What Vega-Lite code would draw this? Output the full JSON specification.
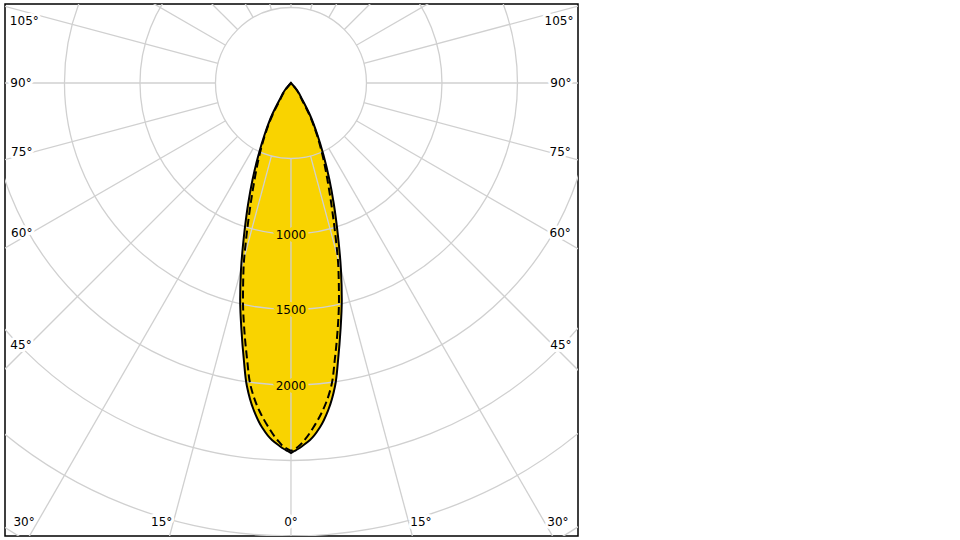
{
  "$schema": "https://vega.github.io/schema/vega-lite/v6.json",
  "width": 573,
  "height": 532,
  "autosize": {"type": "none"},
  "padding": {"left": 5, "top": 4, "right": 382, "bottom": 4},
  "background": "white",
  "config": {"view": {"stroke": "#000000", "strokeWidth": 1.5}, "font": "DejaVu Sans"},
  "datasets": {
    "solid": [
      {"y": 0, "xl": 0, "xr": 0},
      {"y": -46.4, "xl": -39.7, "xr": 39.7},
      {"y": -112.6, "xl": -76.2, "xr": 76.2},
      {"y": -211.9, "xl": -125.8, "xr": 125.8},
      {"y": -344.4, "xl": -175.5, "xr": 175.5},
      {"y": -476.8, "xl": -215.2, "xr": 215.2},
      {"y": -642.4, "xl": -255, "xr": 255},
      {"y": -808, "xl": -284.8, "xr": 284.8},
      {"y": -1013.2, "xl": -311.3, "xr": 311.3},
      {"y": -1238.4, "xl": -331.1, "xr": 331.1},
      {"y": -1437.1, "xl": -336.5, "xr": 336.5},
      {"y": -1635.8, "xl": -328, "xr": 328},
      {"y": -1834.4, "xl": -312, "xr": 312},
      {"y": -2006.6, "xl": -292, "xr": 292},
      {"y": -2165.6, "xl": -247, "xr": 247},
      {"y": -2278.1, "xl": -193, "xr": 193},
      {"y": -2364.2, "xl": -126, "xr": 126},
      {"y": -2397.4, "xl": -84, "xr": 84},
      {"y": -2423.8, "xl": -46.4, "xr": 46.4},
      {"y": -2437, "xl": -23.2, "xr": 23.2},
      {"y": -2450.3, "xl": 0, "xr": 0}
    ],
    "dashed": [
      {"y": 0, "xl": 0, "xr": 0},
      {"y": -46.4, "xl": -37.5, "xr": 37.5},
      {"y": -112.6, "xl": -72.8, "xr": 72.8},
      {"y": -211.9, "xl": -122.5, "xr": 122.5},
      {"y": -344.4, "xl": -172.2, "xr": 172.2},
      {"y": -476.8, "xl": -208.6, "xr": 208.6},
      {"y": -642.4, "xl": -241.7, "xr": 241.7},
      {"y": -808, "xl": -268.2, "xr": 268.2},
      {"y": -1013.2, "xl": -294.7, "xr": 294.7},
      {"y": -1238.4, "xl": -314.6, "xr": 314.6},
      {"y": -1437.1, "xl": -317.9, "xr": 317.9},
      {"y": -1635.8, "xl": -309, "xr": 309},
      {"y": -1834.4, "xl": -290, "xr": 290},
      {"y": -2006.6, "xl": -267, "xr": 267},
      {"y": -2165.6, "xl": -212, "xr": 212},
      {"y": -2278.1, "xl": -150, "xr": 150},
      {"y": -2364.2, "xl": -90, "xr": 90},
      {"y": -2410.6, "xl": -45, "xr": 45},
      {"y": -2437, "xl": 0, "xr": 0}
    ],
    "rings": [
      {"r": 500}, {"r": 1000}, {"r": 1500}, {"r": 2000},
      {"r": 2500}, {"r": 3000}, {"r": 3500}, {"r": 4000}
    ],
    "radials": [
      {"a": 0, "xa": 0, "ya": -500, "xb": 0, "yb": -4000},
      {"a": 15, "xa": 129.4, "ya": -483, "xb": 1035.3, "yb": -3863.7},
      {"a": 30, "xa": 250, "ya": -433, "xb": 2000, "yb": -3464.1},
      {"a": 45, "xa": 353.6, "ya": -353.6, "xb": 2828.4, "yb": -2828.4},
      {"a": 60, "xa": 433, "ya": -250, "xb": 3464.1, "yb": -2000},
      {"a": 75, "xa": 483, "ya": -129.4, "xb": 3863.7, "yb": -1035.3},
      {"a": 90, "xa": 500, "ya": 0, "xb": 4000, "yb": 0},
      {"a": 105, "xa": 483, "ya": 129.4, "xb": 3863.7, "yb": 1035.3},
      {"a": 120, "xa": 433, "ya": 250, "xb": 3464.1, "yb": 2000},
      {"a": 135, "xa": 353.6, "ya": 353.6, "xb": 2828.4, "yb": 2828.4},
      {"a": 150, "xa": 250, "ya": 433, "xb": 2000, "yb": 3464.1},
      {"a": 165, "xa": 129.4, "ya": 483, "xb": 1035.3, "yb": 3863.7},
      {"a": 180, "xa": 0, "ya": 500, "xb": 0, "yb": 4000},
      {"a": 195, "xa": -129.4, "ya": 483, "xb": -1035.3, "yb": 3863.7},
      {"a": 210, "xa": -250, "ya": 433, "xb": -2000, "yb": 3464.1},
      {"a": 225, "xa": -353.6, "ya": 353.6, "xb": -2828.4, "yb": 2828.4},
      {"a": 240, "xa": -433, "ya": 250, "xb": -3464.1, "yb": 2000},
      {"a": 255, "xa": -483, "ya": 129.4, "xb": -3863.7, "yb": 1035.3},
      {"a": 270, "xa": -500, "ya": 0, "xb": -4000, "yb": 0},
      {"a": 285, "xa": -483, "ya": -129.4, "xb": -3863.7, "yb": -1035.3},
      {"a": 300, "xa": -433, "ya": -250, "xb": -3464.1, "yb": -2000},
      {"a": 315, "xa": -353.6, "ya": -353.6, "xb": -2828.4, "yb": -2828.4},
      {"a": 330, "xa": -250, "ya": -433, "xb": -2000, "yb": -3464.1},
      {"a": 345, "xa": -129.4, "ya": -483, "xb": -1035.3, "yb": -3863.7}
    ],
    "anglelabels": [
      {"t": "105°", "x": -1766, "y": 411},
      {"t": "90°", "x": -1788, "y": 0},
      {"t": "75°", "x": -1783, "y": -457},
      {"t": "60°", "x": -1783, "y": -993},
      {"t": "45°", "x": -1788, "y": -1735},
      {"t": "30°", "x": -1768, "y": -2907},
      {"t": "15°", "x": -856, "y": -2907},
      {"t": "0°", "x": 0, "y": -2907},
      {"t": "15°", "x": 861, "y": -2907},
      {"t": "30°", "x": 1768, "y": -2907},
      {"t": "45°", "x": 1788, "y": -1735},
      {"t": "60°", "x": 1783, "y": -993},
      {"t": "75°", "x": 1783, "y": -457},
      {"t": "90°", "x": 1788, "y": 0},
      {"t": "105°", "x": 1775, "y": 411}
    ],
    "cdlabels": [
      {"t": "1000", "x": 0, "y": -1000},
      {"t": "1500", "x": 0, "y": -1500},
      {"t": "2000", "x": 0, "y": -2000}
    ]
  },
  "layer": [
    {
      "data": {"name": "solid"},
      "mark": {"type": "area", "orient": "horizontal", "interpolate": "monotone", "color": "#f9d300", "opacity": 1},
      "encoding": {
        "y": {"field": "y", "type": "quantitative", "scale": {"domain": [-3000, 523], "nice": false, "zero": false}, "axis": null},
        "x": {"field": "xl", "type": "quantitative", "scale": {"domain": [-1894, 1901], "nice": false, "zero": false}, "axis": null},
        "x2": {"field": "xr"}
      }
    },
    {
      "data": {"name": "rings"},
      "mark": {"type": "point", "shape": "circle", "filled": false, "stroke": "#d0d0d0", "strokeWidth": 1.3, "opacity": 1, "clip": true},
      "encoding": {
        "x": {"datum": 0, "type": "quantitative", "scale": {"domain": [-1894, 1901], "nice": false, "zero": false}, "axis": null},
        "y": {"datum": 0, "type": "quantitative", "scale": {"domain": [-3000, 523], "nice": false, "zero": false}, "axis": null},
        "size": {"field": "r", "type": "quantitative", "scale": {"type": "pow", "exponent": 2, "domain": [0, 4000], "range": [0, 1459264]}, "legend": null}
      }
    },
    {
      "data": {"name": "radials"},
      "mark": {"type": "rule", "color": "#d0d0d0", "strokeWidth": 1.3, "clip": true},
      "encoding": {
        "x": {"field": "xa", "type": "quantitative", "scale": {"domain": [-1894, 1901], "nice": false, "zero": false}, "axis": null},
        "y": {"field": "ya", "type": "quantitative", "scale": {"domain": [-3000, 523], "nice": false, "zero": false}, "axis": null},
        "x2": {"field": "xb"},
        "y2": {"field": "yb"}
      }
    },
    {
      "data": {"name": "dashed"},
      "mark": {"type": "area", "orient": "horizontal", "interpolate": "monotone", "fillOpacity": 0, "stroke": "#000000", "strokeWidth": 2, "strokeDash": [8, 4]},
      "encoding": {
        "y": {"field": "y", "type": "quantitative", "scale": {"domain": [-3000, 523], "nice": false, "zero": false}, "axis": null},
        "x": {"field": "xl", "type": "quantitative", "scale": {"domain": [-1894, 1901], "nice": false, "zero": false}, "axis": null},
        "x2": {"field": "xr"}
      }
    },
    {
      "data": {"name": "solid"},
      "mark": {"type": "area", "orient": "horizontal", "interpolate": "monotone", "fillOpacity": 0, "stroke": "#000000", "strokeWidth": 2},
      "encoding": {
        "y": {"field": "y", "type": "quantitative", "scale": {"domain": [-3000, 523], "nice": false, "zero": false}, "axis": null},
        "x": {"field": "xl", "type": "quantitative", "scale": {"domain": [-1894, 1901], "nice": false, "zero": false}, "axis": null},
        "x2": {"field": "xr"}
      }
    },
    {
      "data": {"name": "anglelabels"},
      "mark": {"type": "text", "fontSize": 12, "align": "center", "baseline": "middle", "stroke": "#ffffff", "strokeWidth": 6, "strokeJoin": "round", "fill": "#ffffff"},
      "encoding": {
        "x": {"field": "x", "type": "quantitative", "scale": {"domain": [-1894, 1901], "nice": false, "zero": false}, "axis": null},
        "y": {"field": "y", "type": "quantitative", "scale": {"domain": [-3000, 523], "nice": false, "zero": false}, "axis": null},
        "text": {"field": "t"}
      }
    },
    {
      "data": {"name": "anglelabels"},
      "mark": {"type": "text", "fontSize": 12, "align": "center", "baseline": "middle", "color": "#000000"},
      "encoding": {
        "x": {"field": "x", "type": "quantitative", "scale": {"domain": [-1894, 1901], "nice": false, "zero": false}, "axis": null},
        "y": {"field": "y", "type": "quantitative", "scale": {"domain": [-3000, 523], "nice": false, "zero": false}, "axis": null},
        "text": {"field": "t"}
      }
    },
    {
      "data": {"name": "cdlabels"},
      "mark": {"type": "text", "fontSize": 12, "align": "center", "baseline": "middle", "dy": 1, "stroke": "#f9d300", "strokeWidth": 7, "strokeJoin": "round", "fill": "#f9d300"},
      "encoding": {
        "x": {"field": "x", "type": "quantitative", "scale": {"domain": [-1894, 1901], "nice": false, "zero": false}, "axis": null},
        "y": {"field": "y", "type": "quantitative", "scale": {"domain": [-3000, 523], "nice": false, "zero": false}, "axis": null},
        "text": {"field": "t"}
      }
    },
    {
      "data": {"name": "cdlabels"},
      "mark": {"type": "text", "fontSize": 12, "align": "center", "baseline": "middle", "dy": 1, "color": "#000000"},
      "encoding": {
        "x": {"field": "x", "type": "quantitative", "scale": {"domain": [-1894, 1901], "nice": false, "zero": false}, "axis": null},
        "y": {"field": "y", "type": "quantitative", "scale": {"domain": [-3000, 523], "nice": false, "zero": false}, "axis": null},
        "text": {"field": "t"}
      }
    }
  ]
}
